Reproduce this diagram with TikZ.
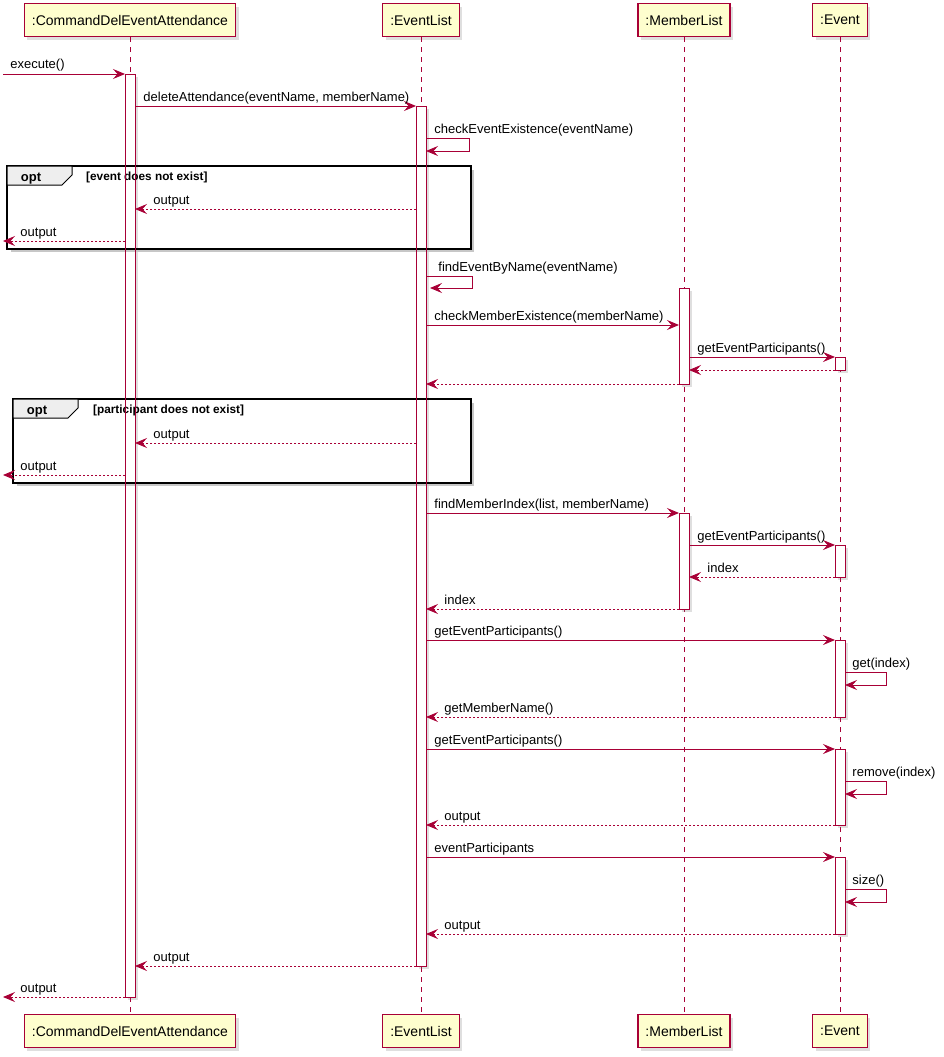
\documentclass[tikz,border=0pt]{standalone}
\usepackage{fontspec}
\setmainfont{Liberation Sans}
\usetikzlibrary{arrows.meta,shadows}

\definecolor{umlred}{HTML}{A80036}
\definecolor{umlbox}{HTML}{FEFECE}
\definecolor{umltab}{HTML}{EEEEEE}

\tikzset{
  participant/.style={draw=umlred, fill=umlbox, line width=1.1pt, minimum height=33pt,
    inner xsep=7.5pt, anchor=north, font=\fontsize{14pt}{16pt}\selectfont,
    drop shadow={shadow xshift=3pt, shadow yshift=-3pt, opacity=0.25}},
  lifeline/.style={umlred, line width=0.8pt, dash pattern=on 5pt off 5pt},
  act/.style={draw=umlred, fill=white, line width=1pt, minimum width=10pt, inner sep=0pt,
    outer sep=0pt, anchor=north, drop shadow={shadow xshift=3pt, shadow yshift=-3pt, opacity=0.25}},
  actborder/.style={draw=umlred, line width=1pt},
  msg/.style={umlred, line width=0.9pt, -{Stealth[length=12pt, width=10pt, inset=4.5pt]}},
  ret/.style={msg, dash pattern=on 2pt off 2pt},
  lbl/.style={font=\fontsize{13pt}{15pt}\selectfont, text=black, inner sep=0pt,
    anchor=base west, yshift=5pt},
  frame/.style={draw=black, line width=1.6pt},
  frameshadow/.style={black!22, line width=3pt},
  tab/.style={draw=black, fill=umltab, line width=1pt},
  tablbl/.style={font=\fontsize{13pt}{15pt}\selectfont\bfseries, inner sep=0pt, anchor=base},
  guard/.style={font=\fontsize{11.8pt}{14pt}\selectfont\bfseries, inner sep=0pt, anchor=base west}
}

\begin{document}
\begin{tikzpicture}[x=1pt, y=-1pt]
  \useasboundingbox (0,0) rectangle (943,1057);

  % Participants, top and bottom
  \node[participant] (cmdTop) at (130,3) {:CommandDelEventAttendance};
  \node[participant] (elTop) at (421,3) {:EventList};
  \node[participant] (mlTop) at (684,3) {:MemberList};
  \node[participant] (evTop) at (840,3) {:Event};
  \node[participant] (cmdBot) at (130,1014) {:CommandDelEventAttendance};
  \node[participant] (elBot) at (421,1014) {:EventList};
  \node[participant] (mlBot) at (684,1014) {:MemberList};
  \node[participant] (evBot) at (840,1014) {:Event};
  \coordinate (edge) at (3,0);

  % Lifelines
  \foreach \p in {cmd, el, ml, ev} {
      \draw[lifeline] (\p Top.south) -- (\p Bot.north);
    }

  % Activations
  \node[act, minimum height=923pt] (actCmd) at (130,74) {};
  \node[act, minimum height=860pt] (actEl) at (421,106) {};
  \node[act, minimum height=96pt] (actMl1) at (684,288) {};
  \node[act, minimum height=13pt] (actEv1) at (840,357) {};
  \node[act, minimum height=96pt] (actMl2) at (684,513) {};
  \node[act, minimum height=32pt] (actEv2) at (840,545) {};
  \node[act, minimum height=77pt] (actEv3) at (840,640) {};
  \node[act, minimum height=76pt] (actEv4) at (840,749) {};
  \node[act, minimum height=77pt] (actEv5) at (840,857) {};

  % Opt frames
  \draw[frameshadow] (11,250.5) -- (472.5,250.5) -- (472.5,170);
  \draw[frame] (7,166) rectangle (471,249);
  \draw[tab] (7,166) -- (72,166) -- (72,175) -- (62,185) -- (7,185) -- cycle;
  \node[tablbl] (opt1) at (31,181) {opt};
  \node[guard] (guard1) at (86,180) {[event does not exist]};

  \draw[frameshadow] (17,484.5) -- (472.5,484.5) -- (472.5,403);
  \draw[frame] (13,399) rectangle (471,483);
  \draw[tab] (13,399) -- (78,399) -- (78,408) -- (68,418) -- (13,418) -- cycle;
  \node[tablbl] (opt2) at (37,414) {opt};
  \node[guard] (guard2) at (93,413) {[participant does not exist]};

  % bar outlines over the frames
  \foreach \a in {actCmd, actEl} {
      \draw[actborder] (\a.south west) rectangle (\a.north east);
    }

  % Messages
  \draw[msg] (edge |- 0,74) -- node[lbl, at start, xshift=7pt] (m1) {execute()} (actCmd.west |- 0,74);
  \draw[msg] (actCmd.east |- 0,106) -- node[lbl, at start, xshift=8pt] (m2) {deleteAttendance(eventName, memberName)} (actEl.west |- 0,106);
  \draw[msg] (actEl.east |- 0,138) node[lbl, xshift=8pt] (m3) {checkEventExistence(eventName)} -- ++(43,0) -- ++(0,13) -- ++(-43,0);
  \draw[ret] (actEl.west |- 0,209) -- node[lbl, at end, xshift=18pt] (m4) {output} (actCmd.east |- 0,209);
  \draw[ret] (actCmd.west |- 0,241) -- node[lbl, at end, xshift=17pt] (m5) {output} (edge |- 0,241);
  \draw[msg] (actEl.east |- 0,276) node[lbl, xshift=12pt] (m6) {findEventByName(eventName)} -- ++(46,0) -- ++(0,12) -- ++(-42,0);
  \draw[msg] (actEl.east |- 0,325) -- node[lbl, at start, xshift=8pt] (m7) {checkMemberExistence(memberName)} (actMl1.west |- 0,325);
  \draw[msg] (actMl1.east |- 0,357) -- node[lbl, at start, xshift=8pt] (m8) {getEventParticipants()} (actEv1.west |- 0,357);
  \draw[ret] (actEv1.west |- 0,370) -- (actMl1.east |- 0,370);
  \draw[ret] (actMl1.west |- 0,384) -- (actEl.east |- 0,384);
  \draw[ret] (actEl.west |- 0,443) -- node[lbl, at end, xshift=18pt] (m9) {output} (actCmd.east |- 0,443);
  \draw[ret] (actCmd.west |- 0,475) -- node[lbl, at end, xshift=17pt] (m10) {output} (edge |- 0,475);
  \draw[msg] (actEl.east |- 0,513) -- node[lbl, at start, xshift=8pt] (m11) {findMemberIndex(list, memberName)} (actMl2.west |- 0,513);
  \draw[msg] (actMl2.east |- 0,545) -- node[lbl, at start, xshift=8pt] (m12) {getEventParticipants()} (actEv2.west |- 0,545);
  \draw[ret] (actEv2.west |- 0,577) -- node[lbl, at end, xshift=18pt] (m13) {index} (actMl2.east |- 0,577);
  \draw[ret] (actMl2.west |- 0,609) -- node[lbl, at end, xshift=18pt] (m14) {index} (actEl.east |- 0,609);
  \draw[msg] (actEl.east |- 0,640) -- node[lbl, at start, xshift=8pt] (m15) {getEventParticipants()} (actEv3.west |- 0,640);
  \draw[msg] (actEv3.east |- 0,672) node[lbl, xshift=7pt] (m16) {get(index)} -- ++(41,0) -- ++(0,13) -- ++(-41,0);
  \draw[ret] (actEv3.west |- 0,717) -- node[lbl, at end, xshift=18pt] (m17) {getMemberName()} (actEl.east |- 0,717);
  \draw[msg] (actEl.east |- 0,749) -- node[lbl, at start, xshift=8pt] (m18) {getEventParticipants()} (actEv4.west |- 0,749);
  \draw[msg] (actEv4.east |- 0,781) node[lbl, xshift=7pt] (m19) {remove(index)} -- ++(41,0) -- ++(0,13) -- ++(-41,0);
  \draw[ret] (actEv4.west |- 0,825) -- node[lbl, at end, xshift=18pt] (m20) {output} (actEl.east |- 0,825);
  \draw[msg] (actEl.east |- 0,857) -- node[lbl, at start, xshift=8pt] (m21) {eventParticipants} (actEv5.west |- 0,857);
  \draw[msg] (actEv5.east |- 0,889) node[lbl, xshift=7pt] (m22) {size()} -- ++(41,0) -- ++(0,13) -- ++(-41,0);
  \draw[ret] (actEv5.west |- 0,934) -- node[lbl, at end, xshift=18pt] (m23) {output} (actEl.east |- 0,934);
  \draw[ret] (actEl.west |- 0,966) -- node[lbl, at end, xshift=18pt] (m24) {output} (actCmd.east |- 0,966);
  \draw[ret] (actCmd.west |- 0,997) -- node[lbl, at end, xshift=17pt] (m25) {output} (edge |- 0,997);

\end{tikzpicture}
\end{document}
